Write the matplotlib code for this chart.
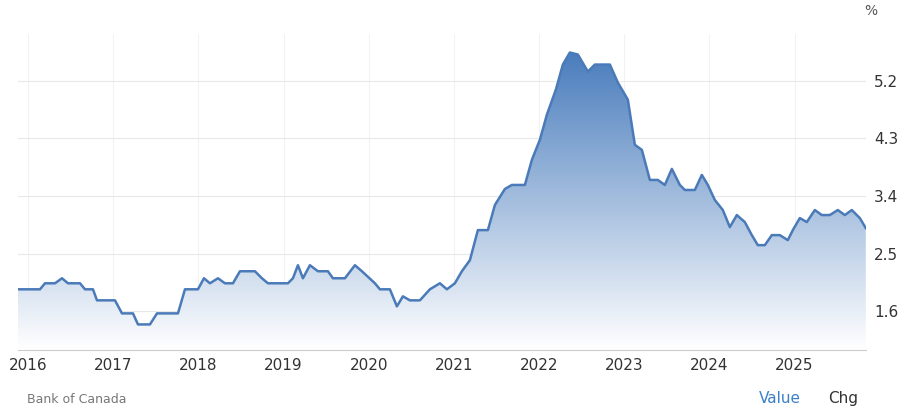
import matplotlib.pyplot as plt
import numpy as np
from matplotlib.patches import Polygon
from matplotlib.colors import LinearSegmentedColormap

# pixel-read series: year fraction and value
px = [18,40,45,55,62,68,80,85,93,97,115,122,133,138,150,157,178,185,198,204,210,218,225,233,240,255,262,268,288,293,298,303,310,318,328,333,345,355,362,375,380,390,397,403,410,420,430,440,447,455,462,470,478,488,495,505,512,525,532,540,547,556,563,570,578,588,595,610,618,628,635,642,650,658,665,672,680,685,695,702,708,715,723,730,737,745,752,758,765,772,780,788,793,800,807,815,822,830,838,845,852,860,866]
py = [289,289,283,283,278,283,283,289,289,300,300,313,313,324,324,313,313,289,289,278,283,278,283,283,271,271,278,283,283,278,265,278,265,271,271,278,278,265,271,283,289,289,306,296,300,300,289,283,289,283,271,260,230,230,205,189,185,185,160,140,115,90,65,53,55,72,65,65,83,100,145,150,180,180,185,169,185,190,190,175,185,200,210,227,215,222,235,245,245,235,235,240,230,218,222,210,215,215,210,215,210,218,228]
years = [2016 + (x - 28) / 85.2 for x in px]
values = [1.6 + (311 - y) * 0.9 / 57.5 for y in py]

yticks = [1.6, 2.5, 3.4, 4.3, 5.2]
xticks = list(range(2016, 2026))

fig = plt.figure(figsize=(9, 4.15), dpi=100)
ax = fig.add_axes([0.02, 0.157, 0.942, 0.76])
ax.set_axisbelow(True)
x0, x1 = years[0], years[-1]
y0, y1 = 1.0, 5.92
ax.set_xlim(x0, x1)
ax.set_ylim(y0, y1)

grad = np.linspace(0, 1, 256).reshape(-1, 1)
cmap = LinearSegmentedColormap.from_list("g", ["#ffffff", "#4a7dbd"])
im = ax.imshow(grad, extent=[x0, x1, y0, max(values)], origin="lower",
               aspect="auto", cmap=cmap, zorder=2)
poly = Polygon(list(zip(years, values)) + [(x1, y0), (x0, y0)], closed=True,
               facecolor="none", edgecolor="none")
ax.add_patch(poly)
im.set_clip_path(poly)
ax.plot(years, values, color="#4a7ab8", lw=1.8, zorder=3,
        solid_joinstyle="round")

ax.yaxis.tick_right()
ax.set_yticks(yticks)
ax.set_yticklabels([f"{v:.1f}" for v in yticks], fontsize=11, color="#333333")
ax.set_xticks(xticks)
ax.set_xticklabels([str(x) for x in xticks], fontsize=11, color="#333333")
ax.grid(axis="y", color="#e8e8e8", lw=0.8)
ax.grid(axis="x", color="#f2f2f2", lw=0.8)
ax.tick_params(length=0, pad=6)
for s in ["top", "left", "right"]:
    ax.spines[s].set_visible(False)
ax.spines["bottom"].set_color("#cccccc")
ax.spines["bottom"].set_zorder(4)

fig.text(0.975, 0.965, "%", fontsize=10, color="#555555", ha="right")
fig.text(0.03, 0.03, "Bank of Canada", fontsize=9, color="#777777")
fig.text(0.89, 0.03, "Value", fontsize=11, color="#3a80c8", ha="right")
fig.text(0.92, 0.03, "Chg", fontsize=11, color="#333333")
fig.savefig("out.png")
